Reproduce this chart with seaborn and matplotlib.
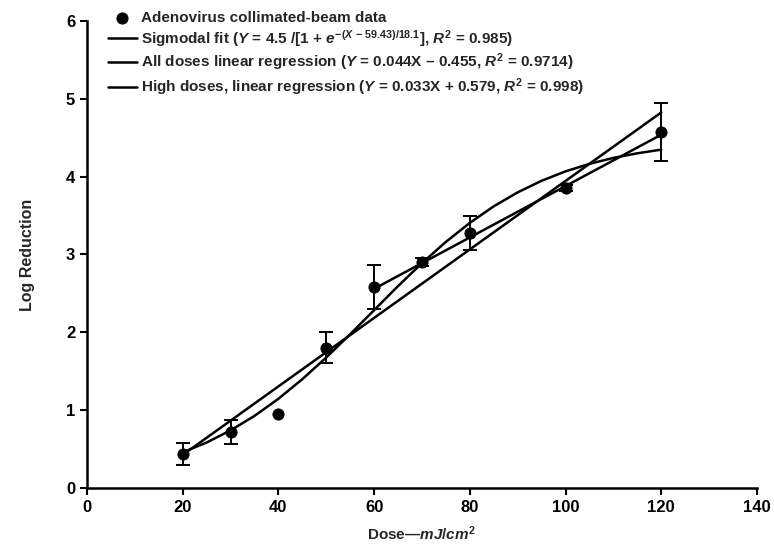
import numpy as np
import pandas as pd
import matplotlib
matplotlib.use("Agg")
import matplotlib.pyplot as plt
import seaborn as sns

# ---- data ----
dose = [20, 30, 40, 50, 60, 70, 80, 100, 120]
log_red = [0.44, 0.72, 0.95, 1.80, 2.58, 2.90, 3.28, 3.85, 4.57]
err = [0.14, 0.15, 0.0, 0.20, 0.28, 0.05, 0.22, 0.04, 0.37]

sig_x = [20, 25, 30, 35, 40, 45, 50, 55, 60, 65, 70, 75, 80, 85, 90, 95, 100, 105, 110, 115, 120]
sig_y = [0.458, 0.584, 0.740, 0.926, 1.146, 1.398, 1.677, 1.976, 2.285, 2.594, 2.889,
         3.162, 3.406, 3.619, 3.798, 3.947, 4.068, 4.164, 4.241, 4.300, 4.347]
all_x = [20, 120]
all_y = [0.425, 4.825]
high_x = [60, 120]
high_y = [2.559, 4.539]

lab_data = "Adenovirus collimated-beam data"
lab_sig = r"Sigmodal fit ($Y$ = 4.5 /[1 + $e^{-(X\,-\,59.43)/18.1}$], $R^2$ = 0.985)"
lab_all = r"All doses linear regression ($Y$ = 0.044X – 0.455, $R^2$ = 0.9714)"
lab_high = r"High doses, linear regression ($Y$ = 0.033X + 0.579, $R^2$ = 0.998)"

sns.set_theme(style="ticks")
plt.rcParams["font.family"] = ["Liberation Sans", "DejaVu Sans"]
plt.rcParams["font.weight"] = "bold"
plt.rcParams["mathtext.fontset"] = "custom"
plt.rcParams["mathtext.rm"] = "Liberation Sans:bold"
plt.rcParams["mathtext.it"] = "Liberation Sans:italic:bold"
plt.rcParams["mathtext.bf"] = "Liberation Sans:bold"

fig = plt.figure(figsize=(7.74, 5.52), dpi=100)
ax = fig.add_axes([0.1124, 0.116, 0.8656, 0.846])

df = pd.DataFrame({"dose": dose, "lr": log_red, "err": err})
sig = pd.DataFrame({"x": sig_x, "y": sig_y})
alld = pd.DataFrame({"x": all_x, "y": all_y})
high = pd.DataFrame({"x": high_x, "y": high_y})

lw = 1.8
sns.lineplot(data=sig, x="x", y="y", ax=ax, color="black", lw=lw, label=lab_sig)
sns.lineplot(data=alld, x="x", y="y", ax=ax, color="black", lw=lw, label=lab_all)
sns.lineplot(data=high, x="x", y="y", ax=ax, color="black", lw=lw, label=lab_high)

eb = df[df["err"] > 0]
ax.errorbar(eb["dose"], eb["lr"], yerr=eb["err"], fmt="none", ecolor="black",
            elinewidth=1.4, capsize=5, capthick=1.4, zorder=3)
sns.scatterplot(data=df, x="dose", y="lr", ax=ax, color="black", s=65,
                edgecolor="black", zorder=4, label=lab_data)

ax.set_xlim(0, 140)
ax.set_ylim(0, 6)
ax.set_xticks(range(0, 141, 20))
ax.set_yticks(range(0, 7))
for s in ["top", "right"]:
    ax.spines[s].set_visible(False)
for s in ["left", "bottom"]:
    ax.spines[s].set_linewidth(1.8)
    ax.spines[s].set_color("black")
ax.tick_params(axis="both", direction="out", length=5, width=1.5, colors="black",
               labelsize=12)
for t in ax.get_xticklabels() + ax.get_yticklabels():
    t.set_fontweight("bold")

ax.set_xlabel(r"Dose—$mJ/cm^2$", fontsize=11, fontweight="bold", labelpad=7)
ax.set_ylabel("Log Reduction", fontsize=11.5, fontweight="bold", labelpad=22)

h, l = ax.get_legend_handles_labels()
order = [lab_data, lab_sig, lab_all, lab_high]
hd = dict(zip(l, h))
leg = ax.legend([hd[k] for k in order], order, loc="upper left",
                bbox_to_anchor=(0.022, 1.035), frameon=False, fontsize=11,
                handlelength=1.9, handletextpad=0.25, labelspacing=0.2,
                borderaxespad=0.0)
for t in leg.get_texts():
    t.set_fontweight("bold")

fig.savefig("out.png", dpi=100)
